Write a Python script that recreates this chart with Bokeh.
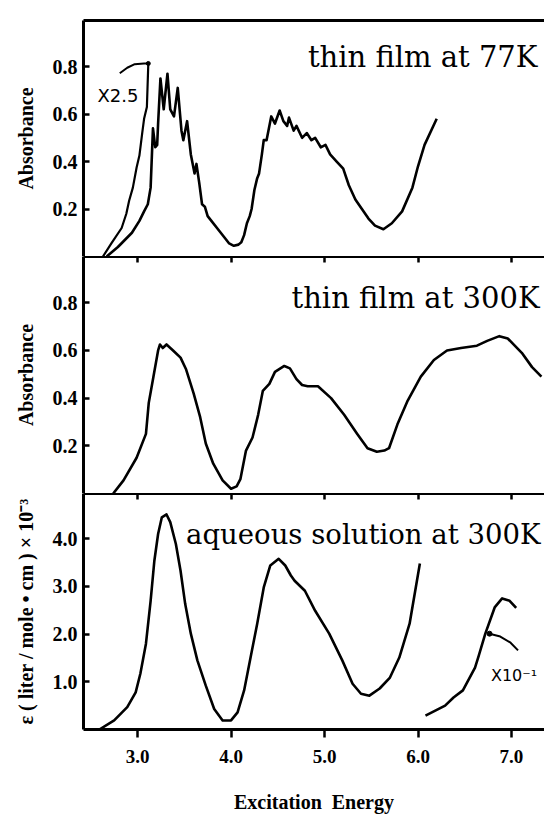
from bokeh.plotting import figure
from bokeh.layouts import column
from bokeh.models import Range1d, FixedTicker, LinearAxis, Label, PrintfTickFormatter
from bokeh.embed import file_html
from bokeh.resources import INLINE

# ---------------- data ----------------
x_ticks = [3.0, 4.0, 5.0, 6.0, 7.0]
abs_ticks = [0.2, 0.4, 0.6, 0.8]
eps_ticks = [1.0, 2.0, 3.0, 4.0]

titles = ["thin film at 77K", "thin film at 300K", "aqueous solution at 300K"]
y_labels = ["Absorbance", "Absorbance", "\u03b5 ( liter / mole \u2022 cm ) \u00d7 10\u207b\u00b3"]
x_label = "Excitation\u00a0\u00a0Energy"

# thin film 77 K (main trace)
film77_x = [2.67, 2.79, 2.94, 3.02, 3.07, 3.11, 3.14, 3.16, 3.165, 3.19, 3.21, 3.22, 3.245,
            3.28, 3.32, 3.35, 3.39, 3.43, 3.47, 3.49, 3.53, 3.57, 3.61, 3.63, 3.66, 3.69,
            3.72, 3.75, 3.79, 3.85, 3.93, 3.98, 4.03, 4.08, 4.11, 4.14, 4.17, 4.20, 4.22,
            4.25, 4.28, 4.30, 4.33, 4.35, 4.38, 4.43, 4.47, 4.52, 4.56, 4.60, 4.62, 4.67,
            4.70, 4.76, 4.81, 4.86, 4.90, 4.96, 5.01, 5.06, 5.13, 5.20, 5.26, 5.33, 5.40,
            5.47, 5.54, 5.63, 5.72, 5.83, 5.94, 6.00, 6.07, 6.20]
film77_y = [0.0, 0.04, 0.10, 0.15, 0.19, 0.22, 0.29, 0.49, 0.54, 0.46, 0.47, 0.56, 0.75,
            0.62, 0.77, 0.62, 0.59, 0.71, 0.53, 0.49, 0.57, 0.43, 0.35, 0.39, 0.31, 0.22,
            0.21, 0.17, 0.15, 0.12, 0.08, 0.055, 0.045, 0.05, 0.06, 0.09, 0.14, 0.17, 0.20,
            0.28, 0.33, 0.35, 0.43, 0.49, 0.49, 0.59, 0.56, 0.615, 0.57, 0.55, 0.585, 0.53,
            0.55, 0.50, 0.52, 0.49, 0.50, 0.46, 0.47, 0.43, 0.40, 0.37, 0.30, 0.24, 0.20,
            0.16, 0.13, 0.115, 0.14, 0.19, 0.29, 0.38, 0.47, 0.58]

# thin film 77 K, onset magnified x2.5
film77_x25_x = [2.63, 2.72, 2.83, 2.88, 2.91, 2.95, 2.99, 3.02, 3.05, 3.07, 3.10, 3.115]
film77_x25_y = [0.0, 0.055, 0.12, 0.18, 0.235, 0.29, 0.375, 0.425, 0.52, 0.58, 0.63, 0.81]
hook_x25_x = [3.115, 3.07, 2.97, 2.89, 2.81]
hook_x25_y = [0.813, 0.813, 0.81, 0.795, 0.772]

# thin film 300 K
film300_x = [2.74, 2.85, 2.99, 3.09, 3.12, 3.17, 3.22, 3.24, 3.27, 3.31, 3.38, 3.46, 3.52,
             3.60, 3.67, 3.73, 3.81, 3.91, 4.00, 4.06, 4.10, 4.16, 4.23, 4.29, 4.34, 4.41,
             4.47, 4.57, 4.63, 4.70, 4.76, 4.82, 4.93, 5.07, 5.21, 5.35, 5.46, 5.56, 5.64,
             5.69, 5.78, 5.89, 6.03, 6.17, 6.31, 6.46, 6.63, 6.74, 6.87, 6.96, 7.11, 7.22, 7.32]
film300_y = [0.0, 0.055, 0.15, 0.25, 0.38, 0.49, 0.60, 0.625, 0.61, 0.625, 0.60, 0.57, 0.52,
             0.42, 0.32, 0.21, 0.125, 0.055, 0.02, 0.03, 0.06, 0.18, 0.235, 0.33, 0.43, 0.46,
             0.51, 0.535, 0.525, 0.48, 0.455, 0.45, 0.45, 0.40, 0.33, 0.25, 0.19, 0.175, 0.18,
             0.19, 0.29, 0.39, 0.49, 0.56, 0.60, 0.61, 0.62, 0.64, 0.66, 0.65, 0.59, 0.53, 0.49]

# aqueous solution 300 K
aq_x = [2.60, 2.75, 2.89, 2.98, 3.03, 3.09, 3.14, 3.18, 3.22, 3.26, 3.31, 3.35, 3.41, 3.46,
        3.51, 3.57, 3.64, 3.73, 3.82, 3.91, 4.00, 4.07, 4.14, 4.21, 4.28, 4.35, 4.42, 4.51,
        4.58, 4.64, 4.68, 4.79, 4.90, 5.05, 5.19, 5.30, 5.39, 5.48, 5.59, 5.70, 5.80, 5.91, 6.02]
aq_y = [0.01, 0.19, 0.47, 0.78, 1.17, 1.80, 2.70, 3.54, 4.10, 4.45, 4.51, 4.35, 3.89, 3.33,
        2.63, 2.01, 1.45, 0.92, 0.43, 0.19, 0.19, 0.36, 0.82, 1.52, 2.22, 2.98, 3.44, 3.58,
        3.44, 3.23, 3.12, 2.91, 2.49, 2.01, 1.45, 0.96, 0.75, 0.71, 0.86, 1.09, 1.51, 2.22, 3.48]

# aqueous solution, high-energy band scaled x10^-1
aq_uv_x = [6.08, 6.29, 6.38, 6.48, 6.61, 6.65, 6.72, 6.82, 6.90, 6.98, 7.05]
aq_uv_y = [0.29, 0.50, 0.67, 0.82, 1.30, 1.55, 2.01, 2.56, 2.75, 2.70, 2.55]
hook_uv_x = [6.765, 6.88, 6.99, 7.07]
hook_uv_y = [2.01, 1.95, 1.82, 1.66]

# ---------------- styling ----------------
W = 544
LEFT = 83
SERIF_B = "Liberation Serif"
TITLE_FONT = "DejaVu Serif"
HAND_FONT = "DejaVu Sans"
LW = 2.6

xr = Range1d(2.422, 7.353)


def style_y(p, ticks, label):
    ya = p.yaxis[0]
    ya.ticker = FixedTicker(ticks=ticks)
    ya.formatter = PrintfTickFormatter(format="%.1f")
    ya.major_tick_in = 6
    ya.major_tick_out = 0
    ya.minor_tick_line_color = None
    ya.axis_line_width = 3
    ya.axis_line_color = "black"
    ya.major_tick_line_width = 2.5
    ya.major_tick_line_color = "black"
    ya.major_label_text_font = SERIF_B
    ya.major_label_text_font_style = "bold"
    ya.major_label_text_font_size = "20px"
    ya.major_label_text_color = "black"
    ya.major_label_standoff = 6
    ya.axis_label = label
    ya.axis_label_text_font = SERIF_B
    ya.axis_label_text_font_style = "bold"
    ya.axis_label_text_font_size = "20px"
    ya.axis_label_text_color = "black"
    ya.axis_label_standoff = 13


def top_axis(p, tick_len):
    ax = LinearAxis(ticker=FixedTicker(ticks=x_ticks),
                    major_tick_in=tick_len, major_tick_out=0,
                    major_label_text_font_size="0px", major_label_standoff=0,
                    major_label_text_color=None,
                    axis_line_width=3, axis_line_color="black",
                    major_tick_line_width=2.5, major_tick_line_color="black",
                    minor_tick_line_color=None)
    p.add_layout(ax, "above")


def panel(height, y_end, top, bottom, with_x):
    p = figure(width=W, height=height, x_range=xr, y_range=Range1d(0, y_end),
               output_backend="svg", toolbar_location=None,
               x_axis_location="below" if with_x else None,
               min_border_left=LEFT, min_border_right=0,
               min_border_top=top, min_border_bottom=bottom)
    p.grid.visible = False
    p.outline_line_color = None
    p.background_fill_color = "white"
    p.border_fill_color = "white"
    return p


def title(p, text, x, y, size):
    p.add_layout(Label(x=x, y=y, text=text, text_align="right", text_baseline="alphabetic",
                       text_font=TITLE_FONT, text_font_size=size, text_color="black"))


# panel 1: thin film 77 K
p1 = panel(256, 0.994, 20, 0, False)
style_y(p1, abs_ticks, y_labels[0])
top_axis(p1, 0)
p1.line(film77_x, film77_y, line_width=LW, color="black", line_join="round")
p1.line(film77_x25_x, film77_x25_y, line_width=LW - 0.4, color="black", line_join="round")
p1.line(hook_x25_x, hook_x25_y, line_width=2, color="black", line_join="round")
p1.scatter([hook_x25_x[0]], [hook_x25_y[0]], size=4, color="black")
p1.add_layout(Label(x=2.79, y=0.68, text="X2.5", text_align="center", text_baseline="alphabetic",
                    text_font=HAND_FONT, text_font_size="18px", text_color="black"))
title(p1, titles[0], 7.278, 0.84, "29px")

# panel 2: thin film 300 K
p2 = panel(237, 0.994, 0, 0, False)
style_y(p2, abs_ticks, y_labels[1])
top_axis(p2, 6)
p2.line(film300_x, film300_y, line_width=LW, color="black", line_join="round")
title(p2, titles[1], 7.30, 0.82, "29px")

# panel 3: aqueous solution 300 K
p3 = panel(327, 4.95, 0, 91, True)
xa = p3.below[0]
style_y(p3, eps_ticks, y_labels[2])
top_axis(p3, 6)
xa.ticker = FixedTicker(ticks=x_ticks)
xa.formatter = PrintfTickFormatter(format="%.1f")
xa.major_tick_in = 0
xa.major_tick_out = 8
xa.minor_tick_line_color = None
xa.axis_line_width = 3
xa.axis_line_color = "black"
xa.major_tick_line_width = 2.5
xa.major_tick_line_color = "black"
xa.major_label_text_font = SERIF_B
xa.major_label_text_font_style = "bold"
xa.major_label_text_font_size = "19px"
xa.major_label_text_color = "black"
xa.major_label_standoff = 12
xa.axis_label = x_label
xa.axis_label_text_font = SERIF_B
xa.axis_label_text_font_style = "bold"
xa.axis_label_text_font_size = "20px"
xa.axis_label_text_color = "black"
xa.axis_label_standoff = 25
p3.line(aq_x, aq_y, line_width=LW, color="black", line_join="round")
p3.line(aq_uv_x, aq_uv_y, line_width=LW, color="black", line_join="round")
p3.line(hook_uv_x, hook_uv_y, line_width=2, color="black", line_join="round")
p3.scatter([hook_uv_x[0]], [hook_uv_y[0]], size=5, color="black")
p3.add_layout(Label(x=6.78, y=1.13, text="X10\u207b\u00b9", text_align="left", text_baseline="alphabetic",
                    text_font=HAND_FONT, text_font_size="16px", text_color="black"))
title(p3, titles[2], 7.31, 4.1, "27.5px")

layout = column(p1, p2, p3, spacing=0)
open("out.html", "w").write(file_html(layout, INLINE))
